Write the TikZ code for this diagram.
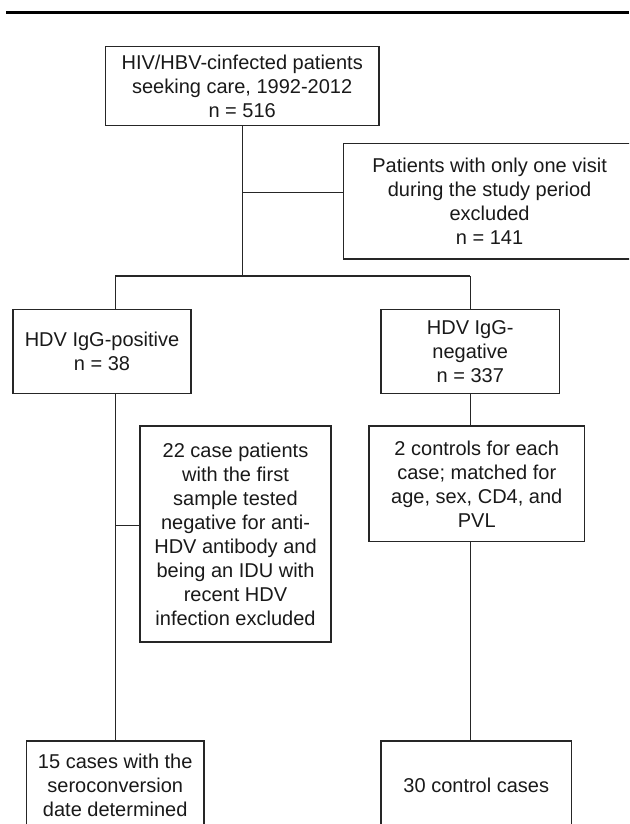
\documentclass[tikz,border=0pt]{standalone}
\usepackage{fontspec}
\setmainfont{Liberation Sans}
\usepackage{xcolor}
\usepackage{tikz}
\usetikzlibrary{calc}

\begin{document}
\begin{tikzpicture}[x=1pt, y=-1pt,
    box/.style={draw=black!85, line width=1.3pt, rectangle, align=center, inner sep=0pt,
        text=black!90, font=\fontsize{20}{24}\selectfont},
    link/.style={draw=black!85, line width=1.3pt}]

\useasboundingbox (0,0) rectangle (629,824);
\clip (0,0) rectangle (629,824);

\path[draw, line width=2.5pt] (6,12.7) -- (629,12.7);

\node[box, minimum width=273.5, minimum height=79] (start) at (242.2,86.2) {HIV/HBV-cinfected patients\\seeking care, 1992-2012\\n = 516};
\node[box, minimum width=292.7, minimum height=115.7] (excl) at (489.6,201.2) {Patients with only one visit\\during the study period\\excluded\\n = 141};

\node[box, minimum width=178, minimum height=84] (pos) at (102,351.3) {HDV IgG-positive\\n = 38};
\node[box, minimum width=178.5, minimum height=84] (neg) at (470.25,351.3) {HDV IgG-\\negative\\n = 337};

\node[box, minimum width=191, minimum height=216] (excase) at (235.5,534) {22 case patients\\with the first\\sample tested\\negative for anti-\\HDV antibody and\\being an IDU with\\recent HDV\\infection excluded};
\node[box, minimum width=215.5, minimum height=115.7] (match) at (476.75,483.85) {2 controls for each\\case; matched for\\age, sex, CD4, and\\PVL};

\node[box, minimum width=177.5, minimum height=88] (cases) at (115.25,785) {15 cases with the\\seroconversion\\date determined};
\node[box, minimum width=190.6, minimum height=88] (controls) at (476.3,785) {30 control cases};

\coordinate (split) at (242.2,276);
\coordinate (splitL) at (115.25,276);
\coordinate (splitR) at (470.25,276);
\coordinate (brk) at (242.2,192.7);
\coordinate (brk2) at (115.25,525.7);

\path[link] (start.south) -- (split);
\path[link] (brk) -- (brk -| excl.west);
\path[link] (splitL) -- (splitR);
\path[link] (splitL) -- (splitL |- pos.north);
\path[link] (splitR) -- (splitR |- neg.north);
\path[link] (pos.south -| cases.north) -- (cases.north);
\path[link] (brk2) -- (brk2 -| excase.west);
\path[link] (neg.south) -- (neg.south |- match.north);
\path[link] (neg.south |- match.south) -- (neg.south |- controls.north);

\end{tikzpicture}
\end{document}
